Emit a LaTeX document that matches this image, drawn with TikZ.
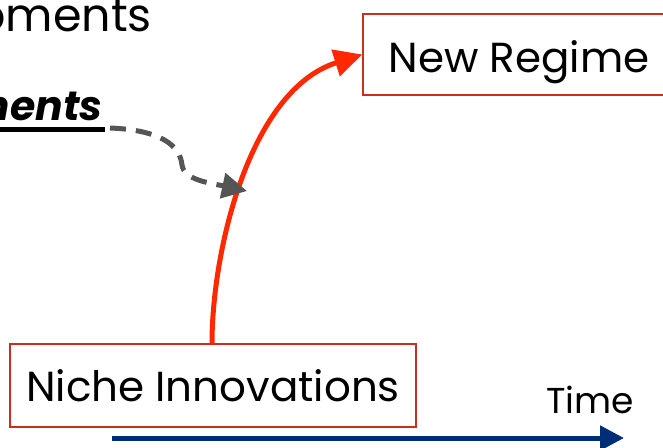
\documentclass[tikz,border=0pt]{standalone}
\usepackage{fontspec}
\setmainfont{Poppins}
\usetikzlibrary{arrows.meta}
\definecolor{boxred}{RGB}{204,45,30}
\definecolor{pathred}{RGB}{255,40,0}
\definecolor{dashgray}{RGB}{85,85,85}
\definecolor{timeblue}{RGB}{0,45,120}
\tikzset{
  stagebox/.style={draw=boxred, line width=1.5pt, fill=white, inner sep=0pt,
    font=\fontsize{42}{42}\selectfont},
  pathway/.style={draw=pathred, line width=5pt,
    -{Triangle[length=28pt,width=27pt]}},
  pressure/.style={draw=dashgray, line width=5pt, dash pattern=on 16pt off 10pt,
    -{Triangle[length=25pt,width=25pt]}},
  timeaxis/.style={draw=timeblue, line width=5pt,
    -{Triangle[length=24pt,width=24pt]}},
  heading/.style={inner sep=0pt, font=\fontsize{46}{46}\selectfont}
}
\begin{document}
\begin{tikzpicture}[x=1pt,y=-1pt]
  \useasboundingbox (0,0) rectangle (663,447);
  \clip (0,0) rectangle (663,447);

  % headings running in from the left
  \node[heading, anchor=base east] (dev) at (152,31) {oments};
  \node[heading, anchor=base east, font=\fontsize{41}{41}\selectfont\bfseries\itshape] (land) at (103,120) {ments};
  \draw[line width=5pt] (-5,129.5) -- (105,129.5);

  % regime boxes
  \node[stagebox, minimum width=312pt, minimum height=81pt, text depth=0pt] (regime) at (519,54.5) {\raisebox{-5pt}{New Regime}};
  \node[stagebox, minimum width=406pt, minimum height=83pt] (niche) at (213,385.5) {\raisebox{-3pt}{Niche Innovations}};

  % time axis
  \coordinate (t0) at (112,438);
  \coordinate (t1) at (624,438);
  \draw[timeaxis] (t0) -- (t1);
  \node[inner sep=0pt, anchor=base, font=\fontsize{36}{36}\selectfont] (time) at (590,413) {Time};

  % transition pathway
  \draw[pathway] (niche.north -| 212,0) .. controls (212,250) and (250,90) .. (regime.west);

  % landscape pressure
  \coordinate (p0) at (110,128);
  \coordinate (p1) at (182,165);
  \coordinate (p2) at (247,191);
  \draw[pressure] (p0) .. controls (160,130) and (180,145) .. (p1)
                       .. controls (184,180) and (210,183) .. (p2);
\end{tikzpicture}
\end{document}
